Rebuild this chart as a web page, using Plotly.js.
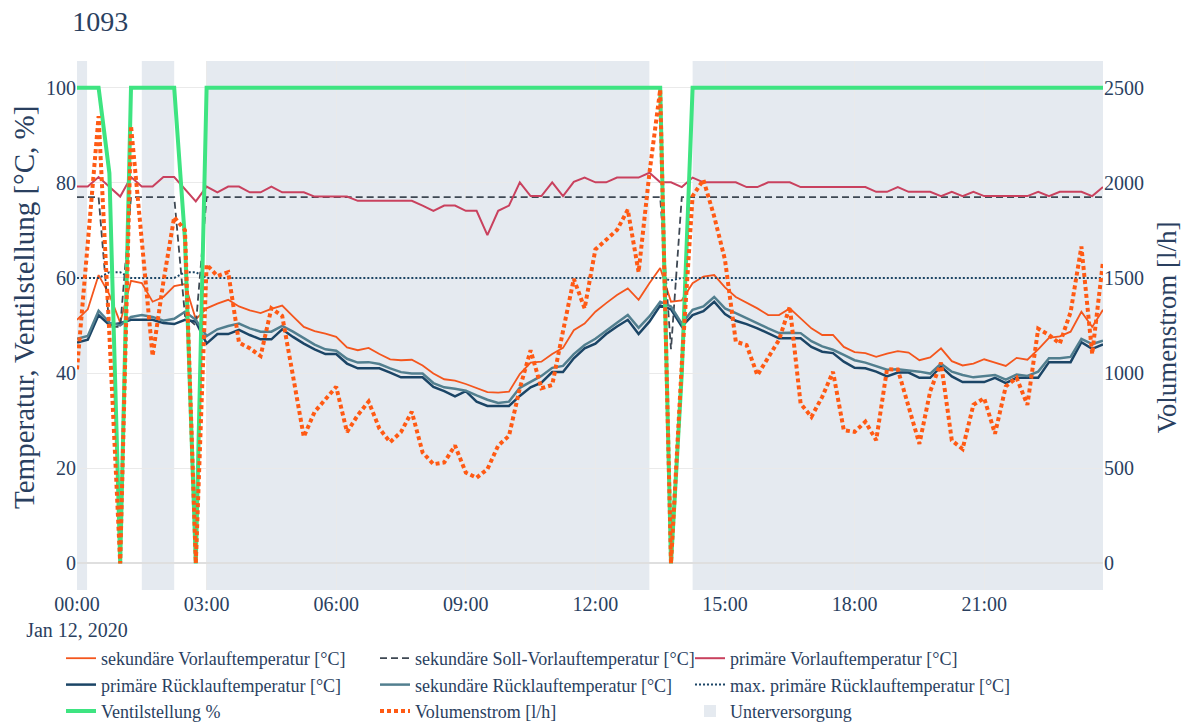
<!DOCTYPE html>
<html>
<head>
<meta charset="utf-8">
<script src="https://cdn.plot.ly/plotly-3.0.1.min.js"></script>
<style>
html, body { margin: 0; padding: 0; background: #ffffff; }
#chart { width: 1185px; height: 724px; }
</style>
</head>
<body>
<div id="chart"></div>
<script>
// ---- sampling grid (15-minute readings on 12 Jan 2020) ----
const dayLabel = '2020-01-12';
const stepMinutes = 15;

// ---- series values ----
const sekVorlauf = [
  51.2, 53.4, 60.6, 56.5, 50.6, 59.4, 58.9, 55.0, 56.0, 58.3,
  58.7, 51.3, 53.6, 54.6, 55.4, 54.0, 53.2, 52.6, 53.5, 54.2,
  51.9, 49.7, 48.8, 48.3, 47.6, 45.4, 44.8, 45.3, 44.0, 42.9,
  42.7, 42.8, 41.6, 39.9, 38.7, 38.4, 37.7, 36.9, 36.0, 35.9,
  36.1, 39.8, 42.2, 42.4, 44.0, 45.3, 49.0, 50.4, 52.9, 54.7,
  56.4, 57.8, 55.4, 58.9, 62.1, 55.0, 55.3, 58.9, 60.3, 60.6,
  58.0, 56.0, 54.8, 53.6, 52.2, 52.2, 53.6, 51.5, 49.4, 48.0,
  48.0, 45.5, 44.4, 44.2, 43.4, 44.1, 44.6, 44.3, 42.7, 43.3,
  45.2, 42.5, 41.6, 42.0, 42.9, 42.2, 41.5, 43.2, 42.8, 45.0,
  47.4, 47.7, 48.7, 52.9, 49.7, 53.3
];
const sekSollVorlauf = [
  77, 77, 77, 49.7, 49.7, 77, 77, 77, 77, 77,
  52, 50, 77, 77, 77, 77, 77, 77, 77, 77,
  77, 77, 77, 77, 77, 77, 77, 77, 77, 77,
  77, 77, 77, 77, 77, 77, 77, 77, 77, 77,
  77, 77, 77, 77, 77, 77, 77, 77, 77, 77,
  77, 77, 77, 77, 77, 45, 77, 77, 77, 77,
  77, 77, 77, 77, 77, 77, 77, 77, 77, 77,
  77, 77, 77, 77, 77, 77, 77, 77, 77, 77,
  77, 77, 77, 77, 77, 77, 77, 77, 77, 77,
  77, 77, 77, 77, 77, 77
];
const primVorlauf = [
  79.2, 79.2, 81.2, 79.2, 77.1, 81.2, 79.2, 79.2, 81.2, 81.2,
  78.6, 76.1, 79.2, 78.0, 79.2, 79.2, 78.0, 78.0, 79.2, 78.0,
  78.0, 78.0, 77.1, 77.1, 77.1, 77.1, 76.2, 76.2, 76.2, 76.2,
  76.2, 76.2, 75.2, 74.1, 75.2, 75.2, 74.1, 74.1, 69.0, 74.1,
  75.2, 80.1, 77.2, 77.2, 80.1, 77.2, 80.2, 81.1, 80.1, 80.1,
  81.1, 81.1, 81.1, 82.1, 80.1, 80.1, 79.1, 81.1, 80.1, 80.1,
  80.1, 80.1, 79.1, 79.1, 80.1, 80.1, 80.1, 79.1, 79.1, 79.1,
  79.1, 79.1, 79.1, 79.1, 78.1, 78.1, 79.1, 78.1, 78.1, 78.1,
  77.2, 78.1, 77.2, 78.1, 77.2, 77.2, 77.2, 77.2, 77.2, 78.1,
  77.2, 78.1, 78.1, 78.1, 77.2, 79.1
];
const primRuecklauf = [
  46.4, 47.0, 52.2, 50.1, 50.5, 51.2, 51.2, 51.2, 50.5, 50.3,
  51.2, 50.8, 46.2, 48.2, 48.2, 49.1, 48.0, 47.1, 47.1, 49.2,
  47.6, 46.2, 45.0, 44.0, 44.0, 42.0, 41.0, 41.0, 41.0, 40.1,
  39.1, 39.1, 39.1, 37.1, 36.2, 35.1, 36.2, 34.0, 33.1, 33.1,
  33.1, 35.2, 37.0, 38.0, 40.2, 40.2, 43.1, 45.2, 46.2, 48.2,
  49.8, 51.2, 48.2, 50.8, 54.2, 53.4, 49.8, 52.2, 53.0, 55.0,
  52.4, 51.0, 50.3, 49.4, 48.4, 47.3, 47.3, 47.3, 45.5, 44.5,
  44.2, 42.4, 41.1, 41.0, 40.3, 39.3, 40.1, 40.1, 39.0, 39.0,
  41.4, 39.3, 38.1, 38.1, 38.1, 39.0, 37.9, 39.0, 39.0, 39.0,
  42.3, 42.3, 42.3, 46.5, 45.1, 46.0
];
const sekRuecklauf = [
  47.2, 47.8, 53.1, 50.6, 50.0, 51.8, 52.2, 51.8, 51.0, 51.4,
  52.9, 51.2, 47.8, 49.2, 49.9, 50.4, 49.4, 48.7, 48.7, 49.9,
  48.7, 47.3, 46.0, 45.0, 44.7, 43.0, 42.2, 42.3, 41.9, 41.0,
  40.2, 39.9, 39.9, 37.9, 37.0, 36.7, 36.3, 35.3, 34.4, 33.7,
  34.0, 36.9, 38.1, 39.4, 41.1, 41.5, 44.0, 45.9, 47.2, 49.0,
  50.6, 52.2, 49.5, 51.9, 55.0, 54.0, 50.4, 53.3, 54.0, 56.0,
  53.6, 52.6, 51.5, 50.5, 49.4, 48.4, 48.5, 48.4, 46.7, 45.6,
  44.9, 43.8, 42.7, 42.2, 41.5, 40.7, 40.8, 40.6, 40.3, 39.9,
  42.0, 40.3, 39.6, 39.1, 39.4, 39.6, 38.6, 39.7, 39.4, 40.3,
  43.1, 43.1, 43.4, 47.2, 46.1, 46.8
];
const maxPrimRuecklauf = [
  60, 60, 60, 61.2, 61.2, 60, 60, 60, 60, 60,
  61.2, 61.2, 60, 60, 60, 60, 60, 60, 60, 60,
  60, 60, 60, 60, 60, 60, 60, 60, 60, 60,
  60, 60, 60, 60, 60, 60, 60, 60, 60, 60,
  60, 60, 60, 60, 60, 60, 60, 60, 60, 60,
  60, 60, 60, 60, 60, 59.5, 60, 60, 60, 60,
  60, 60, 60, 60, 60, 60, 60, 60, 60, 60,
  60, 60, 60, 60, 60, 60, 60, 60, 60, 60,
  60, 60, 60, 60, 60, 60, 60, 60, 60, 60,
  60, 60, 60, 60, 60, 60
];
const ventilstellung = [
  100, 100, 100, 82, 0, 100, 100, 100, 100, 100,
  68, 0, 100, 100, 100, 100, 100, 100, 100, 100,
  100, 100, 100, 100, 100, 100, 100, 100, 100, 100,
  100, 100, 100, 100, 100, 100, 100, 100, 100, 100,
  100, 100, 100, 100, 100, 100, 100, 100, 100, 100,
  100, 100, 100, 100, 100, 0, 40, 100, 100, 100,
  100, 100, 100, 100, 100, 100, 100, 100, 100, 100,
  100, 100, 100, 100, 100, 100, 100, 100, 100, 100,
  100, 100, 100, 100, 100, 100, 100, 100, 100, 100,
  100, 100, 100, 100, 100, 100
];
const volumenstrom = [
  1020, 1700, 2350, 1200, 0, 2300, 1700, 1090, 1480, 1820,
  1750, 0, 1570, 1510, 1530, 1160, 1130, 1090, 1340, 1300,
  985, 665, 796, 860, 928, 690, 779, 850, 708, 637,
  690, 797, 583, 521, 530, 619, 477, 450, 495, 619,
  670, 920, 1120, 920, 937, 1220, 1495, 1340, 1650, 1700,
  1752, 1858, 1530, 2050, 2490, 0, 1050, 1930, 2016, 1823,
  1595, 1165, 1147, 989, 1077, 1174, 1349, 840, 770, 875,
  1007, 700, 691, 744, 647, 1020, 1019, 832, 628, 904,
  1055, 646, 601, 833, 868, 681, 930, 975, 833, 1233,
  1200, 1155, 1320, 1665, 1100, 1586
];

// ---- Unterversorgung periods ----
const uvStart = ['2020-01-12 00:00', '2020-01-12 01:30', '2020-01-12 03:00', '2020-01-12 14:15'];
const uvEnd   = ['2020-01-12 00:14', '2020-01-12 02:15', '2020-01-12 13:15', '2020-01-12 23:45'];

// ---- legend names ----
const names = [
  'sekundäre Vorlauftemperatur [°C]',
  'sekundäre Soll-Vorlauftemperatur [°C]',
  'primäre Vorlauftemperatur [°C]',
  'primäre Rücklauftemperatur [°C]',
  'sekundäre Rücklauftemperatur [°C]',
  'max. primäre Rücklauftemperatur [°C]',
  'Ventilstellung %',
  'Volumenstrom [l/h]',
  'Unterversorgung'
];
const yTitleLeft = 'Temperatur, Ventilstellung [°C, %]';
const yTitleRight = 'Volumenstrom [l/h]';
const chartTitle = '1093';

// ---- build time stamps ----
function pad(n) { return (n < 10 ? '0' : '') + n; }
const times = sekVorlauf.map(function (_, i) {
  const m = i * stepMinutes;
  return dayLabel + ' ' + pad(Math.floor(m / 60)) + ':' + pad(m % 60);
});

const FONT = "'Times New Roman', 'Liberation Serif', Times, serif";
const TXT = '#2a3f5f';

function line(y, name, color, width, dash, legendId, axis) {
  return {
    type: 'scatter', mode: 'lines', x: times, y: y, name: name,
    yaxis: axis || 'y', legend: legendId,
    line: { color: color, width: width, dash: dash || 'solid' },
    hoverinfo: 'skip'
  };
}

const traces = [
  line(sekVorlauf, names[0], '#F4561D', 1.8, 'solid', 'legend'),
  line(sekSollVorlauf, names[1], '#3E4853', 1.8, '7px,4px', 'legend2'),
  line(primVorlauf, names[2], '#C9415E', 2, 'solid', 'legend3'),
  line(primRuecklauf, names[3], '#1B4566', 2.5, 'solid', 'legend'),
  line(sekRuecklauf, names[4], '#527F8F', 2.5, 'solid', 'legend2'),
  line(maxPrimRuecklauf, names[5], '#1B4566', 2, '2px,2px', 'legend3'),
  line(ventilstellung, names[6], '#3EE481', 4, 'solid', 'legend'),
  line(volumenstrom, names[7], '#FF5A14', 4, '4px,3px', 'legend2', 'y2')
];

const shapes = uvStart.map(function (s, k) {
  return {
    type: 'rect', xref: 'x', yref: 'paper',
    x0: s, x1: uvEnd[k], y0: 0, y1: 1,
    fillcolor: '#E5EAF0', line: { width: 0 }, layer: 'below',
    showlegend: k === 0, name: names[8], legendgroup: 'uv',
    legend: 'legend3', legendrank: 2000
  };
});

const gridColor = '#EAEAEA';

function legendAt(px) {
  return {
    orientation: 'v', xref: 'container', x: px / 1185, xanchor: 'left',
    yref: 'container', y: (724 - 640) / 724, yanchor: 'top',
    font: { family: FONT, size: 18, color: TXT },
    traceorder: 'normal', bgcolor: 'rgba(0,0,0,0)', tracegroupgap: 0
  };
}

// axis titles placed as rotated text next to the axes
const axisTitles = [
  { text: yTitleLeft, xref: 'paper', yref: 'paper', x: -0.0517, y: 0.535,
    textangle: -90, showarrow: false, xanchor: 'center', yanchor: 'middle',
    font: { family: FONT, size: 29, color: TXT } },
  { text: yTitleRight, xref: 'paper', yref: 'paper', x: 1.0625, y: 0.497,
    textangle: -90, showarrow: false, xanchor: 'center', yanchor: 'middle',
    font: { family: FONT, size: 27, color: TXT } }
];

const layout = {
  width: 1185, height: 724,
  margin: { l: 77, r: 82, t: 61, b: 134, pad: 0, autoexpand: false },
  paper_bgcolor: '#ffffff', plot_bgcolor: '#ffffff',
  font: { family: FONT, size: 20, color: TXT },
  title: {
    text: chartTitle, font: { family: FONT, size: 28, color: TXT },
    x: 0.061, xanchor: 'left', xref: 'container',
    y: 0.971, yanchor: 'middle', yref: 'container'
  },
  showlegend: true,
  xaxis: {
    type: 'date',
    range: [times[0], times[times.length - 1]],
    tick0: times[0], dtick: 3 * 3600 * 1000,
    showgrid: true, gridcolor: gridColor, gridwidth: 1,
    zeroline: false, showline: false, ticks: '',
    tickfont: { family: FONT, size: 20, color: TXT }
  },
  yaxis: {
    range: [-5.6, 105.6], tick0: 0, dtick: 20,
    showgrid: true, gridcolor: gridColor, gridwidth: 1,
    zeroline: true, zerolinecolor: '#DFDFDF', zerolinewidth: 2,
    showline: false, ticks: '',
    tickfont: { family: FONT, size: 20, color: TXT }
  },
  yaxis2: {
    overlaying: 'y', side: 'right',
    range: [-140, 2640], tick0: 0, dtick: 500,
    showgrid: false, zeroline: false, showline: false, ticks: '',
    tickfont: { family: FONT, size: 20, color: TXT }
  },
  legend: legendAt(61),
  legend2: legendAt(375),
  legend3: legendAt(690),
  annotations: axisTitles,
  shapes: shapes
};

Plotly.newPlot('chart', traces, layout, { displayModeBar: false, staticPlot: true });
</script>
</body>
</html>
